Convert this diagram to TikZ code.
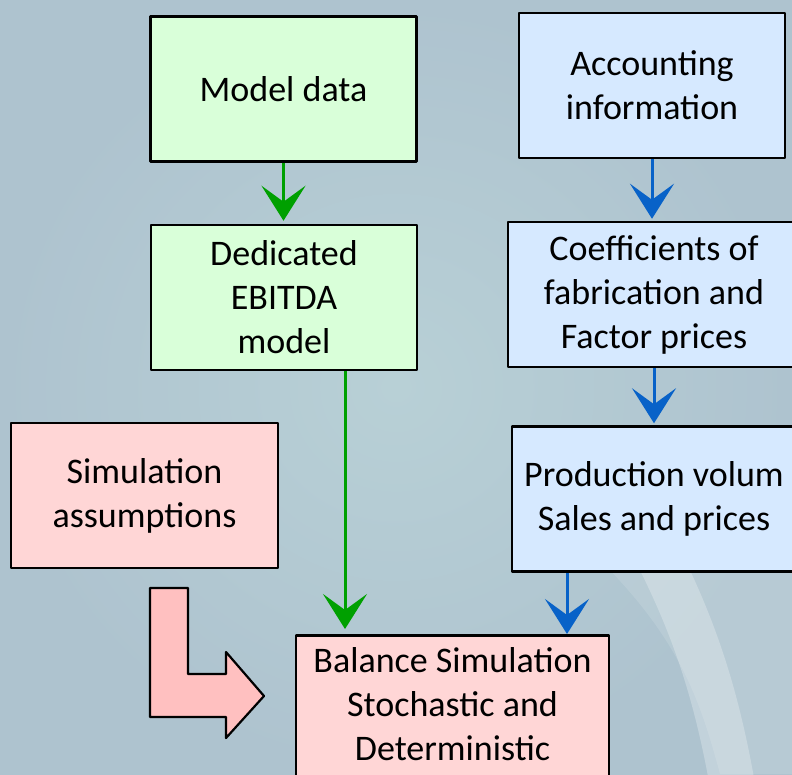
\documentclass[tikz,border=0pt]{standalone}
\usepackage{fontspec}
\setmainfont{Carlito}
\usetikzlibrary{arrows.meta}
\definecolor{waterdark}{RGB}{174,195,207}
\definecolor{waterlight}{RGB}{184,208,214}
\definecolor{boxgreen}{RGB}{217,255,217}
\definecolor{boxblue}{RGB}{214,233,255}
\definecolor{boxpink}{RGB}{255,214,214}
\definecolor{arrowpink}{RGB}{255,192,192}
\definecolor{arrgreen}{RGB}{0,160,0}
\definecolor{arrblue}{RGB}{8,98,200}
\begin{document}
\begin{tikzpicture}[x=1pt,y=-1pt,line join=round,>={Stealth[length=35pt,width=44pt,inset=16pt]},
	font=\fontsize{36}{44}\selectfont,
	box/.style={draw=black,line width=2.5pt,align=center,inner sep=0pt,minimum height=145pt},
	greenbox/.style={box,fill=boxgreen},
	bluebox/.style={box,fill=boxblue},
	pinkbox/.style={box,fill=boxpink},
	greenarrow/.style={->,arrgreen,line width=3pt},
	bluearrow/.style={->,arrblue,line width=3pt}]
	\useasboundingbox (0,0) rectangle (792,774);
	\clip (0,0) rectangle (792,774);
	%Background
	\shade[inner color=waterlight,outer color=waterdark] (0,0) rectangle (792,774);
	\fill[white,opacity=.12] (600,560) .. controls (680,640) and (700,700) .. (720,774) -- (792,774) -- (792,560) -- cycle;
	\draw[white,opacity=.25,line width=45pt] (660,560) .. controls (700,640) and (720,710) .. (735,800);
	%Boxes
	\node[greenbox,minimum width=266pt] (model) at (283.5,89) {Model data};
	\node[greenbox,minimum width=266pt] (ebitda) at (284,297.5) {Dedicated\\EBITDA\\model};
	\node[bluebox,minimum width=266pt] (acc) at (652,85.5) {Accounting\\information};
	\node[bluebox,minimum width=292pt] (coef) at (654,294.5) {Coefficients of\\fabrication and\\Factor prices};
	\node[bluebox,minimum width=284pt] (prod) at (654,499) {Production volum\\Sales and prices};
	\node[pinkbox,minimum width=267pt] (sim) at (144.5,495.5) {Simulation\\assumptions};
	\node[pinkbox,anchor=north,minimum width=313pt,minimum height=0pt,inner ysep=12pt,text depth=150pt] (bal) at (452.5,634) {Balance Simulation\\Stochastic and\\Deterministic};
	%Arrows
	\draw[greenarrow,shorten >=3pt] (model.south) -- (model.south |- ebitda.north);
	\draw[greenarrow,shorten >=5pt] ([xshift=61pt]ebitda.south) -- ([xshift=61pt]ebitda.south |- bal.north);
	\draw[bluearrow,shorten >=2pt] (acc.south) -- (acc.south |- coef.north);
	\draw[bluearrow,shorten >=2pt] (coef.south) -- (coef.south |- prod.north);
	\draw[bluearrow] ([xshift=-87pt]prod.south) -- ([xshift=-87pt]prod.south |- bal.north);
	%L arrow
	\draw[fill=arrowpink,line width=2.2pt] (150,588) -- (188,588) -- (188,674) -- (226,674) -- (226,652) -- (264,696) -- (226,738) -- (226,717) -- (150,717) -- cycle;
\end{tikzpicture}
\end{document}
